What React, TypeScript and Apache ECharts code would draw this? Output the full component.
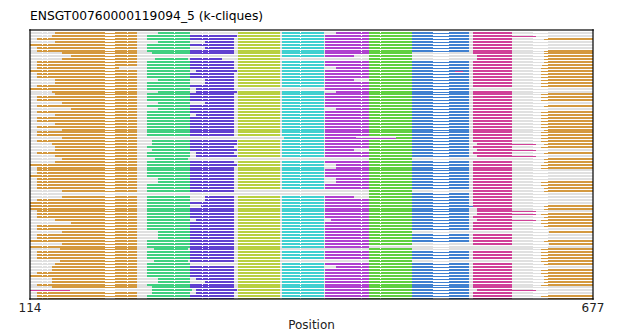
import React, { useEffect, useRef } from "react";
import * as echarts from "echarts";

const chartTitle = "ENSGT00760000119094_5 (k-cliques)";
const axisName = "Position";
const posMin = 114;
const posMax = 677;
const tickLabels = [114, 677];

// clique codes: left orange, mint, indigo, yellow-green, cyan, purple, green, blue, pink, right orange
const cliqueCodes = ["O", "M", "I", "Y", "C", "P", "G", "B", "K", "R"];
const cliqueColors = ["#D4993F", "#40D080", "#6040D0", "#B8D040", "#40D0D0", "#B040D0", "#60D040", "#4080D0", "#D04098", "#D4993F"];
const cliqueStart = [121, 231, 274, 322, 366, 409, 453, 496, 557, 625];
const cliqueEnd = [221, 274, 318, 364, 408, 453, 496, 553, 596, 677];
const backgroundColor = "#E0E0E0";

// alignment gap columns (white)
const gapRanges = [
  [126, 127], [131, 132], [189, 199], [211, 212], [258, 259], [286, 287], [292, 293],
  [384, 385], [445, 446], [464, 465], [517, 533], [617, 632],
];

const rows = [
  "O139 M242 Y C P420 G B K",
  "O136 M231 I274-321 Y C P409 G B K k596-620",
  "O121 M231 I274 Y C P409 G B K R628",
  "O139 M242 I289 Y C P409 G B K",
  "O114 M231 I274 Y C P409 G B K",
  "O121 M231 I289 Y C P409 G B K",
  "O121 M231 I274 Y C P409 G B K R628",
  "O146 M236 I274 Y C P409 G K R628",
  "O155 Y C P409-438 G K561 R628",
  "O146 M239-272 I274-306 Y G K561 R628",
  "O121 M231 I274 Y C P409 G B K R628",
  "O121 M231 I274 Y C P409 G B K R626",
  "O121-203 M231 I274 Y C P420 G B K R625",
  "O114 M231 I280-321 Y C P409 G B k539-547 K R625",
  "O121 M231 I274 Y C P409 G B K R625",
  "O121 M231 I274 Y C P409 G B K R625",
  "O139 M242 I289 Y C P409-438 G B K R625",
  "O139 M231 I289 Y C P409 G B K R625",
  "O121 M231 I274 Y C P409 G B K R625",
  "O114 M231 I280 P409 G B",
  "O136 M242 I280-321 Y C P420 G B K",
  "O139 M231 I274 Y C P409 G B K R625",
  "O121 M231 I274 Y C P409 G B K R625",
  "O121 M231 I274 Y C P409 G B K R625",
  "O146 M242 I289 Y C P409 G B K",
  "O121 M231 I274 Y C P409 G B K R628",
  "O155 M242 I274 Y C P420 G B K",
  "O121 M231 I274 Y C P409 G B K R625",
  "O139 M231 I280 Y C P409 G B K R625",
  "O121 M231 I274 Y C P409 G B K R625",
  "O121 M231 I274 Y C P409 G B K R625",
  "O139 M231 I274 Y C P409 G B K R625",
  "O121 M231 I274 Y C P409 G B K R625",
  "O146 M231 I274 Y C P409 G B K R628",
  "O121 M231 I274 Y C P409 G B K R625",
  "O121 M231 I274 Y C P409 G B K R625",
  "O146 C368 P409-440 p440-480 G480-496 B K R625",
  "O121 M236 I274-321 Y C P409 G B K R625",
  "O136 M236 I274-321 Y C P409 G B K561 k596-620 R628",
  "O139 M231 I274 Y C P409 G B K R625",
  "O139 M236 I274-321 Y C P409-438 G B K561 k596-620",
  "O121 M231 I280 Y C P409 G B K R628",
  "O139 M231 I280-321 Y C P409 G B K561 k596-620",
  "O146 M239-272 G R628",
  "O139 M231 I274 Y C P409 G B K R628",
  "O114 M231 I274-321 Y C P420 G B K R625",
  "O121 M231 I274 Y C P420 G B K R625",
  "O121 M231 I274 Y C P409 G B K",
  "O121 M231 I274 Y C P409 G B K",
  "O114 M231 I274 Y C P409 G B K",
  "O121 M242 I274 Y C P420 G B K",
  "O121 M242 I274 Y C P420 G B K R625",
  "O121 M231 I274 Y C P409 G B K R625",
  "O121 M231 I274 Y C P409 G B K R628",
  "O146 M231 I274 G K R628",
  "G B K",
  "O146 M231 I289 Y C P409-438 G B K",
  "O121 M231 I289 Y C P409 G B K",
  "O114 M231 I274 Y C P409 G B K",
  "O114 M231 I285 Y C P409 G B b553-569 K R628",
  "O114 M231 I274 Y C P409 G B K561 R628",
  "O121 M231 I274 Y C P409 G B K561 k596-620",
  "O121 M231 I274 Y C P409 G B K561 k596-620 R625",
  "O121 M231 I274 Y C P409 G B K R628",
  "O139 M231 I280 Y C P415 G B K561 k596-620 R625",
  "O155 M231 I274 Y C P409 G B K R625",
  "O121 M231 I274 Y C P409 G B K R628",
  "O121 M231 I274 Y C P409 G B K",
  "O146 M242 I274 Y C P409 G R633",
  "O121 M242 I274 Y C P409 G B K",
  "O121 M242 I274 Y C P409 G B K",
  "O114 M231 I274 Y C P409 G B K R628",
  "O146 M231 I274 Y C P409 G K R633",
  "O114 M231 I274 Y C P409",
  "O144 M238-272 I274 Y G R625",
  "O121 M231 I274 Y C P409 G B K R625",
  "O121 M231 I274 Y C P409 G B K R625",
  "O121 M231 I274 Y C P409 G B K R625",
  "O144 M238-272 I274 Y G R625",
  "O139 M231 Y C P409 G B K R628",
  "O136 M231 I274 Y C P420 G B K",
  "O136 M231 I274 Y C P409 G B K R625",
  "O121 M231 I274 Y C P409 G B K R625",
  "O114 M231 I274 Y C P409 G B K R628",
  "O136 M242 I280 Y C P409 G B K R628",
  "O136 M242 I289 Y C P409 G B K R628",
  "O121 M231 I274 Y C P409 G B K R625",
  "O136 M236 I274 Y C P409 G B K",
  "k114-154 M236-276 I280-321 Y C P409 G B K561 k596-620",
  "O121 M236 I280 Y C P409 G B K",
  "O121 M231 I274 Y C P409 G B K R625",
  "O121 M231 I274 Y C P409 G B K R625",
];

function buildData() {
  const bg: any[] = [];
  const segs: any[] = [];
  const gaps: any[] = [];
  rows.forEach((spec, r) => {
    bg.push({ value: [r, posMin, posMax, -1, 0] });
    spec.split(" ").forEach((tok) => {
      const m = tok.match(/^([A-Za-z])(\d+)?(?:-(\d+))?$/);
      if (!m) return;
      const letter = m[1];
      const idx = cliqueCodes.indexOf(letter.toUpperCase());
      if (idx < 0) return;
      const thin = letter !== letter.toUpperCase() ? 1 : 0;
      const s = m[2] ? Number(m[2]) : cliqueStart[idx];
      const e = m[3] ? Number(m[3]) : cliqueEnd[idx];
      segs.push({ value: [r, s, e, idx, thin] });
    });
    gapRanges.forEach(([s, e]) => gaps.push({ value: [r, s, e, -2, 0] }));
  });
  return [...bg, ...segs, ...gaps];
}

const font = "DejaVu Sans";
const frameLine = { show: true, onZero: false, lineStyle: { color: "rgba(0,0,0,0.6)", width: 2 } };

export default function App() {
  const ref = useRef<HTMLDivElement>(null);
  useEffect(() => {
    document.body.style.margin = "0";
    if (!ref.current) return;
    const chart = echarts.init(ref.current, undefined, { renderer: "svg" });
    const n = rows.length;
    chart.setOption({
      animation: false,
      backgroundColor: "#ffffff",
      title: {
        text: chartTitle,
        left: 30,
        top: 10,
        padding: 0,
        textStyle: { fontSize: 12.3, fontWeight: "normal", color: "#000", fontFamily: font },
      },
      grid: { left: 30, right: 30, top: 30, bottom: 30, containLabel: false },
      xAxis: [
        {
          type: "value",
          min: posMin,
          max: posMax,
          position: "bottom",
          z: 10,
          axisLine: frameLine,
          axisTick: { show: false },
          splitLine: { show: false },
          axisLabel: { customValues: tickLabels, fontSize: 12, color: "#222", fontFamily: font, margin: 3 },
          name: axisName,
          nameLocation: "middle",
          nameGap: 16,
          nameTextStyle: { fontSize: 12, color: "#222", fontFamily: font },
        },
        {
          type: "value",
          min: posMin,
          max: posMax,
          position: "top",
          z: 10,
          axisLine: frameLine,
          axisTick: { show: false },
          splitLine: { show: false },
          axisLabel: { show: false },
        },
      ],
      yAxis: [
        {
          type: "value",
          min: -0.5,
          max: n - 0.5,
          inverse: true,
          position: "left",
          z: 10,
          axisLine: frameLine,
          axisTick: { show: false },
          splitLine: { show: false },
          axisLabel: { show: false },
        },
        {
          type: "value",
          min: -0.5,
          max: n - 0.5,
          inverse: true,
          position: "right",
          z: 10,
          axisLine: frameLine,
          axisTick: { show: false },
          splitLine: { show: false },
          axisLabel: { show: false },
        },
      ],
      series: [
        {
          type: "custom",
          xAxisIndex: 0,
          yAxisIndex: 0,
          clip: true,
          z: 2,
          renderItem: (params: any, api: any) => {
            const r = api.value(0);
            const s = api.value(1);
            const e = api.value(2);
            const kind = api.value(3);
            const thin = api.value(4);
            const p0 = api.coord([s, r]);
            const p1 = api.coord([e, r]);
            const h = api.size([0, 1])[1];
            const x0 = Math.round(p0[0]);
            const x1 = Math.max(Math.round(p1[0]), x0 + 1);
            let y = Math.round(p0[1] - h / 2) + 2;
            let hh = 2;
            let fill = backgroundColor;
            if (kind === -2) {
              fill = "#ffffff";
              hh = 1;
            } else if (kind >= 0) {
              fill = cliqueColors[kind];
              if (thin) {
                y = y + 1;
                hh = 1;
              }
            }
            return {
              type: "rect",
              shape: { x: x0, y, width: x1 - x0, height: hh },
              style: { fill },
            };
          },
          data: buildData(),
        },
      ],
    });
    return () => chart.dispose();
  }, []);
  return <div ref={ref} style={{ width: 623, height: 336 }} />;
}
